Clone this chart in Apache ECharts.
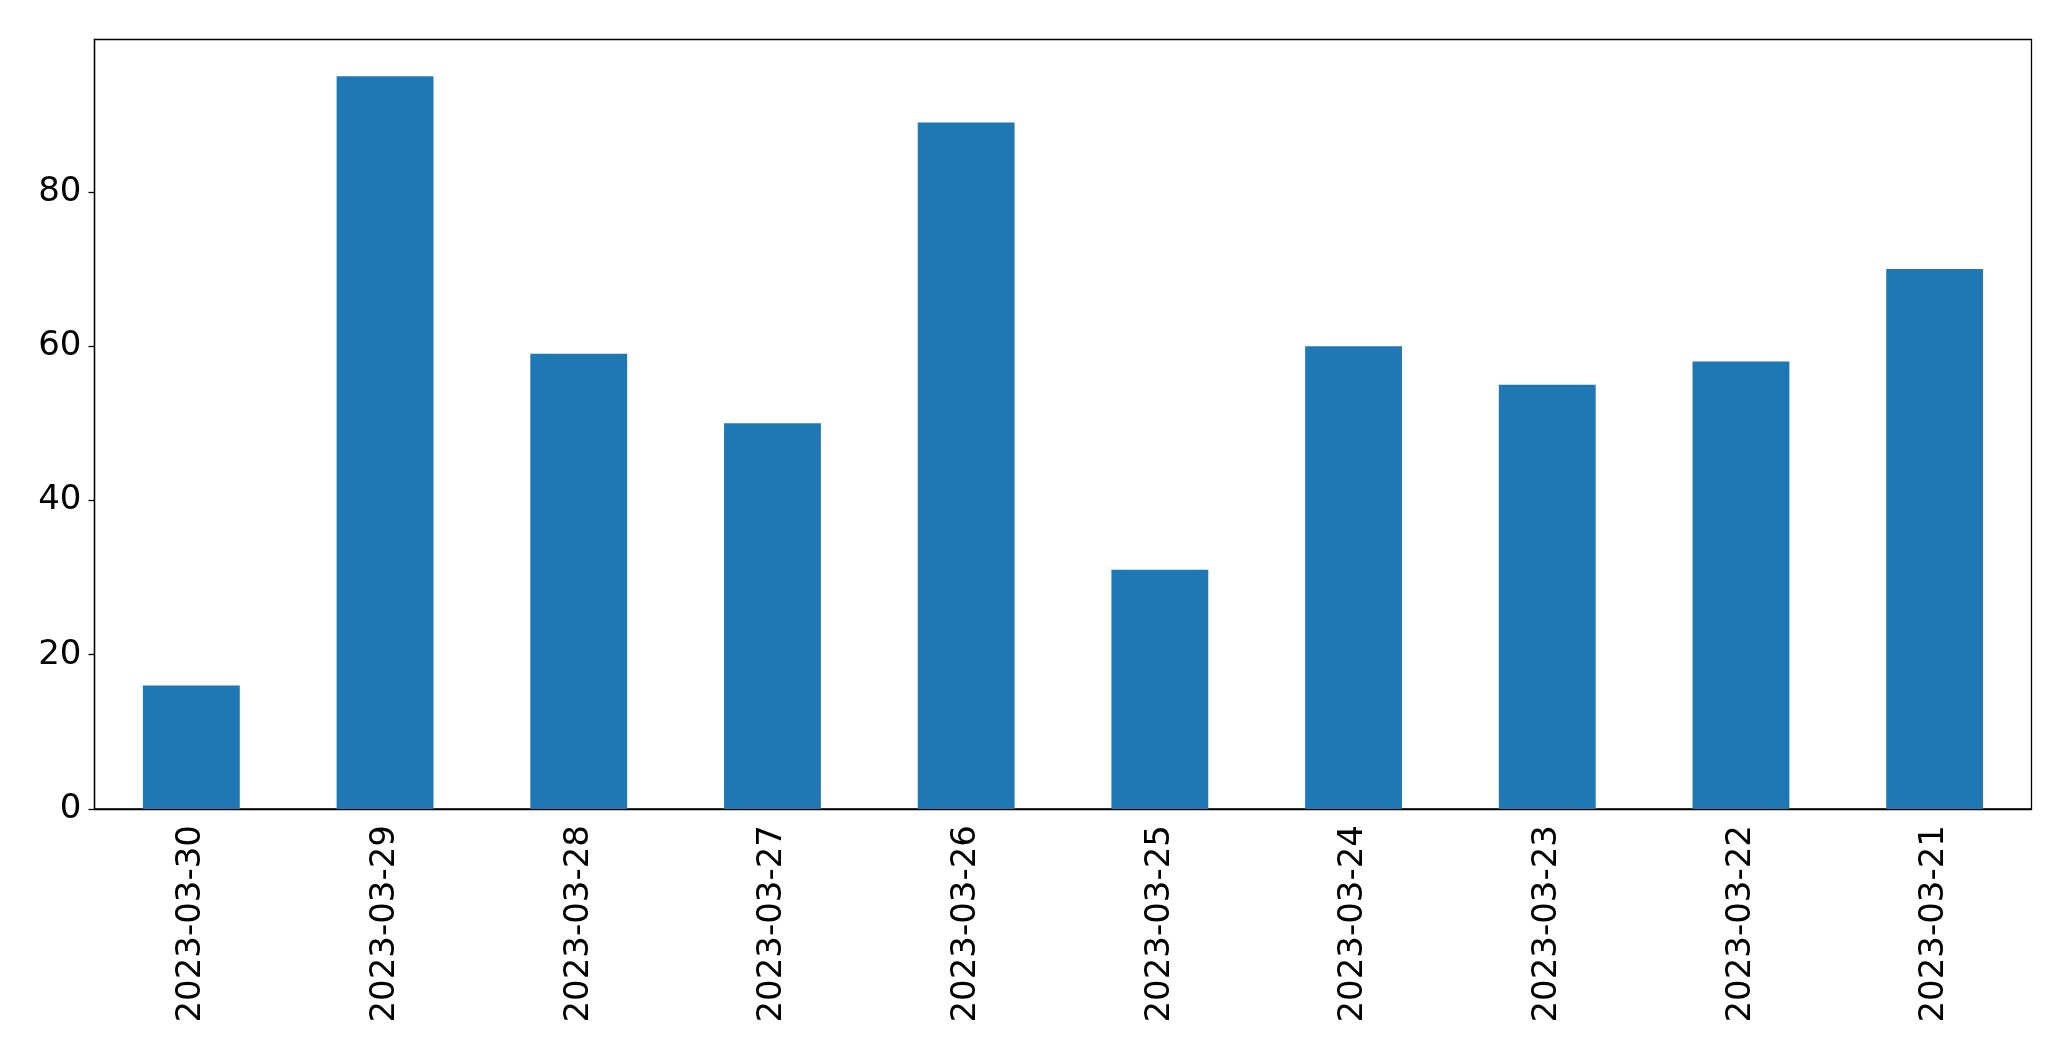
<!DOCTYPE html>
<html>
<head>
<meta charset="utf-8">
<script src="https://cdn.jsdelivr.net/npm/echarts@6/dist/echarts.min.js"></script>
<style>html,body{margin:0;padding:0;background:#fff;}#c{width:2071px;height:1061px;}</style>
</head>
<body>
<div id="c"></div>
<script>
const categories = ['2023-03-30','2023-03-29','2023-03-28','2023-03-27','2023-03-26','2023-03-25','2023-03-24','2023-03-23','2023-03-22','2023-03-21'];
const values = [16, 95, 59, 50, 89, 31, 60, 55, 58, 70];
const yTicks = [0, 20, 40, 60, 80];

const chart = echarts.init(document.getElementById('c'));
const font = 'DejaVu Sans';
chart.setOption({
  animation: false,
  backgroundColor: '#fff',
  grid: {left: 94.5, right: 39.5, top: 39.5, bottom: 252, show: true, borderColor: '#000', borderWidth: 1.3, containLabel: false},
  xAxis: {
    type: 'category',
    data: categories,
    axisLine: {lineStyle: {color: '#000', width: 1.3}},
    axisTick: {alignWithLabel: true, length: 6, lineStyle: {color: '#000', width: 1.3}},
    axisLabel: {rotate: 90, margin: 16, fontSize: 34, fontFamily: font, color: '#000', interval: 0}
  },
  yAxis: {
    type: 'value',
    min: 0,
    max: 99.75,
    interval: 20,
    splitLine: {show: false},
    axisLine: {show: true, lineStyle: {color: '#000', width: 1.3}},
    axisTick: {show: true, length: 6, customValues: yTicks, lineStyle: {color: '#000', width: 1.3}},
    axisLabel: {margin: 13, fontSize: 34, fontFamily: font, color: '#000', customValues: yTicks}
  },
  series: [{
    type: 'bar',
    data: values,
    barWidth: '50%',
    itemStyle: {color: '#1f77b4'}
  }]
});
</script>
</body>
</html>
